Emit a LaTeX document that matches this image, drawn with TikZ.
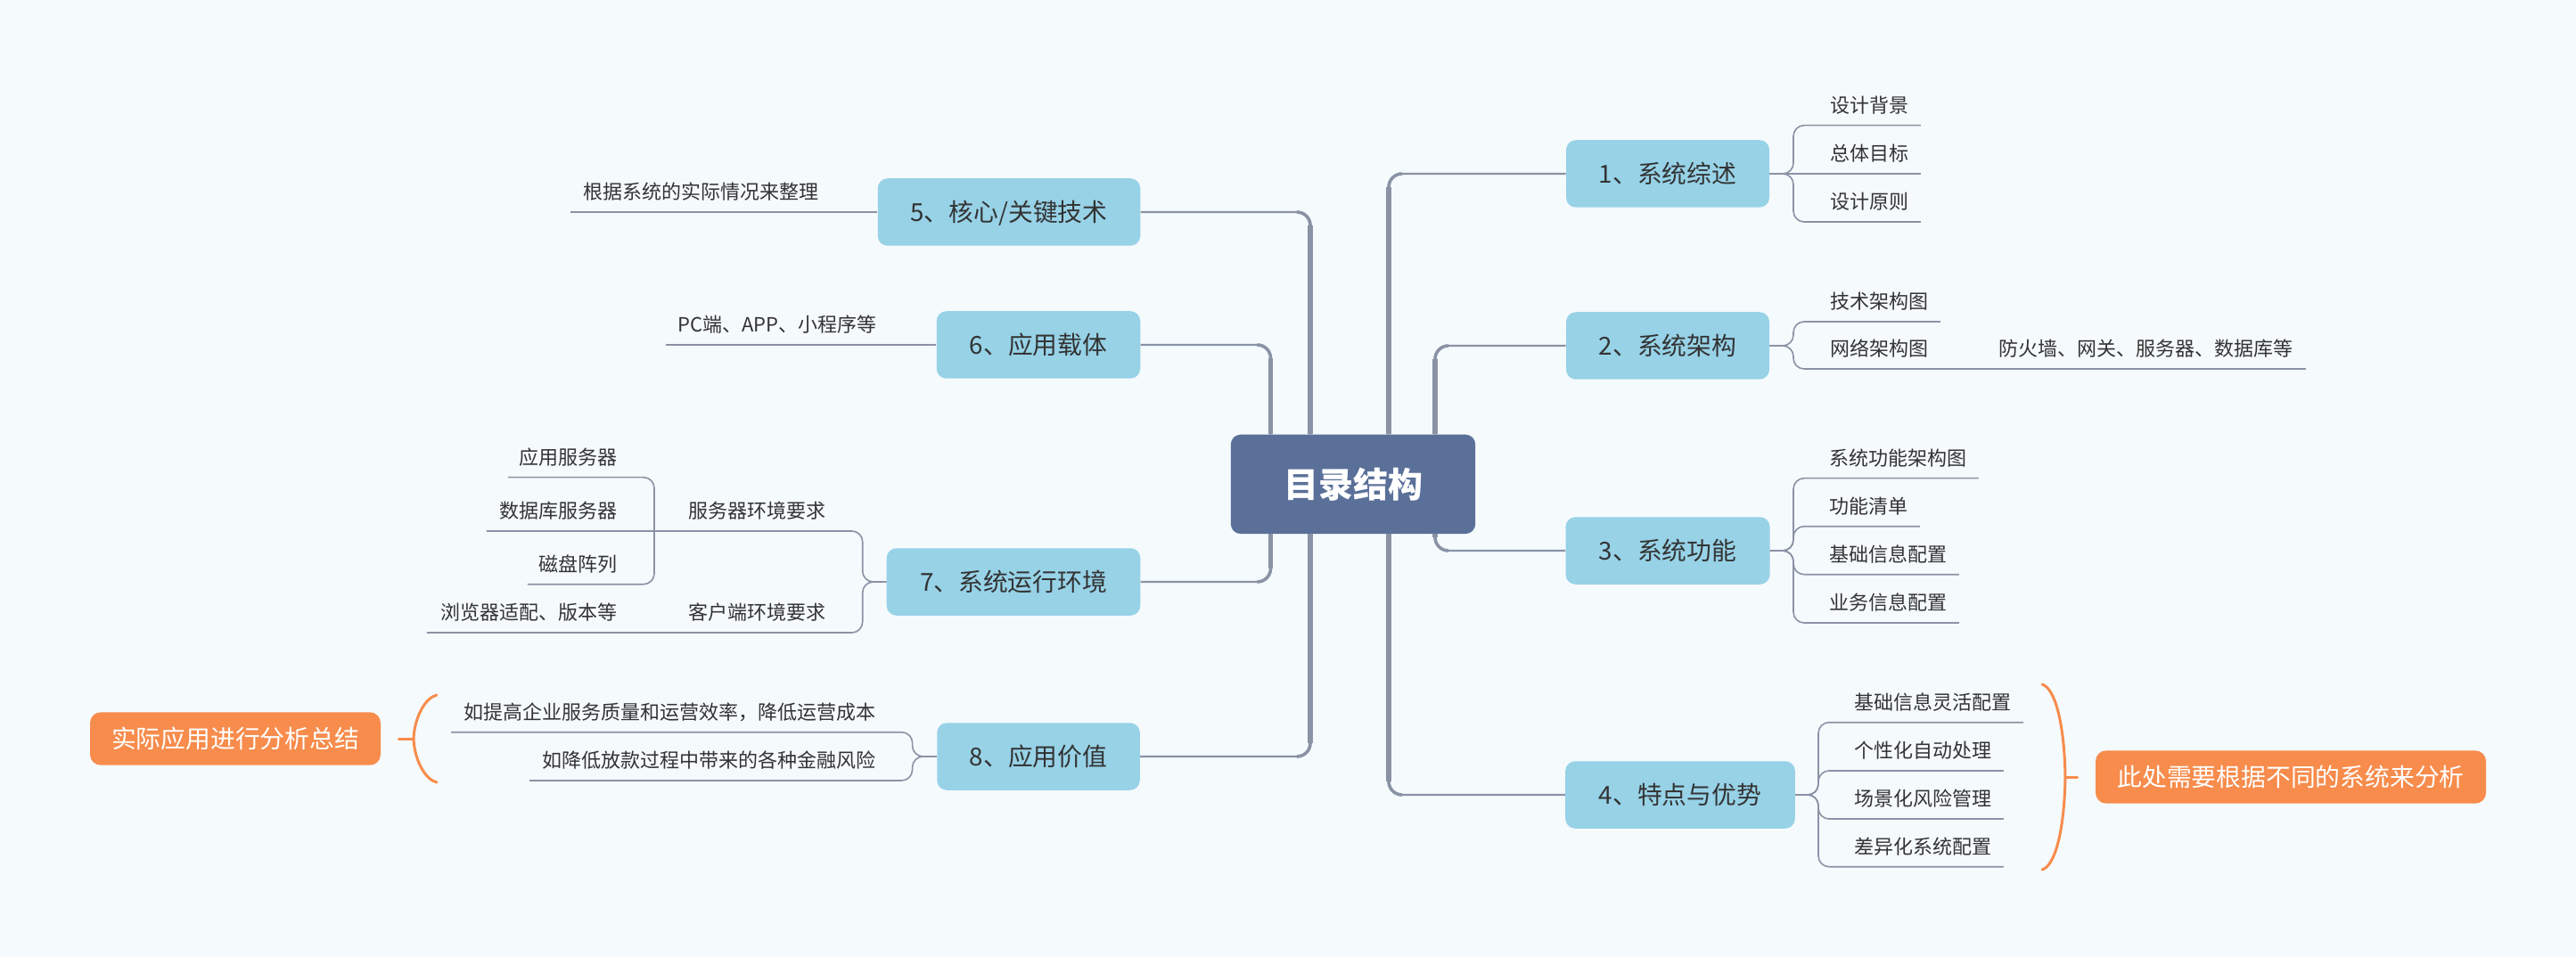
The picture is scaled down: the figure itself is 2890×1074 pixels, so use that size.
\documentclass[tikz,border=0pt]{standalone}
\usepackage{fontspec}
\newfontfamily\cjk{Noto Sans CJK SC}
\usetikzlibrary{calc}
\definecolor{bgc}{HTML}{F5FAFD}
\definecolor{lnc}{HTML}{8A93A5}
\definecolor{cenc}{HTML}{5A7099}
\definecolor{brc}{HTML}{97D2E7}
\definecolor{orc}{HTML}{F78C4C}
\definecolor{txt}{HTML}{333333}
\tikzset{
  cen/.style={fill=cenc, rounded corners=5.5pt, minimum width=137.2pt, minimum height=55.65pt,
    inner sep=0pt, text=white, font=\cjk\bfseries\fontsize{19.5}{20}\selectfont,
    text height=17.2pt, text depth=2.3pt},
  br/.style={fill=brc, rounded corners=5.5pt, minimum height=37.75pt, inner sep=0pt,
    text=txt, font=\cjk\fontsize{13.9}{14}\selectfont, text height=12.2pt, text depth=1.7pt},
  org/.style={fill=orc, rounded corners=6pt, minimum height=29.7pt, inner sep=0pt,
    text=white, font=\cjk\fontsize{13.9}{14}\selectfont, text height=12.2pt, text depth=1.7pt},
  lab/.style={inner sep=0pt, minimum height=22.5pt, text=txt,
    font=\cjk\fontsize{11}{12}\selectfont, text height=9.7pt, text depth=1.3pt},
  trunk/.style={draw=lnc, line width=1.1pt, rounded corners=7.5pt},
  trunkmid/.style={draw=lnc, line width=1.8pt, rounded corners=7.5pt},
  trunkthick/.style={draw=lnc, line width=2.6pt},
  sub/.style={draw=lnc, line width=0.8pt, rounded corners=6pt},
  brace/.style={draw=orc, line width=1.5pt, line cap=round},
}
\begin{document}
\begin{tikzpicture}[x=0.5pt,y=-0.5pt]
\fill[bgc] (0,0) rectangle (2890,1074);
\useasboundingbox (0,0) rectangle (2890,1074);

% main nodes
\node[cen] (c) at (1518,543.4) {目录结构};
\node[br, minimum width=114pt]    (b1) at (1871,195) {1、系统综述};
\node[br, minimum width=114pt]    (b2) at (1871,388) {2、系统架构};
\node[br, minimum width=114.5pt]  (b3) at (1871,618) {3、系统功能};
\node[br, minimum width=128.8pt]  (b4) at (1885,892) {4、特点与优势};
\node[br, minimum width=147.25pt] (b5) at (1132,238) {5、核心/关键技术};
\node[br, minimum width=114.25pt] (b6) at (1165,387) {6、应用载体};
\node[br, minimum width=142.3pt]  (b7) at (1137,653) {7、系统运行环境};
\node[br, minimum width=113.75pt] (b8) at (1165,849) {8、应用价值};

% trunk x positions
\coordinate (tr1) at (1558,0);
\coordinate (tr2) at (1610,0);
\coordinate (tl1) at (1425.5,0);
\coordinate (tl2) at (1470,0);

% main connectors (tapered: thick trunk, medium corner, thin arm)
\draw[trunk] (tr1 |- c.north) -- (tr1 |- b1.west) -- (b1.west);
\draw[trunkmid] (tr1 |- c.north) -- (tr1 |- b1.west) -- ([xshift=7.5pt]tr1 |- b1.west);
\draw[trunkthick] (tr1 |- c.north) -- ([yshift=-7.5pt]tr1 |- b1.west);

\draw[trunk] (tr2 |- c.north) -- (tr2 |- b2.west) -- (b2.west);
\draw[trunkmid] (tr2 |- c.north) -- (tr2 |- b2.west) -- ([xshift=7.5pt]tr2 |- b2.west);
\draw[trunkthick] (tr2 |- c.north) -- ([yshift=-7.5pt]tr2 |- b2.west);

\draw[trunk] (tr2 |- c.south) -- (tr2 |- b3.west) -- (b3.west);
\draw[trunkmid] (tr2 |- c.south) -- (tr2 |- b3.west) -- ([xshift=7.5pt]tr2 |- b3.west);
\draw[trunkthick] (tr2 |- c.south) -- ([yshift=7.5pt]tr2 |- b3.west);

\draw[trunk] (tr1 |- c.south) -- (tr1 |- b4.west) -- (b4.west);
\draw[trunkmid] (tr1 |- c.south) -- (tr1 |- b4.west) -- ([xshift=7.5pt]tr1 |- b4.west);
\draw[trunkthick] (tr1 |- c.south) -- ([yshift=7.5pt]tr1 |- b4.west);

\draw[trunk] (tl2 |- c.north) -- (tl2 |- b5.east) -- (b5.east);
\draw[trunkmid] (tl2 |- c.north) -- (tl2 |- b5.east) -- ([xshift=-7.5pt]tl2 |- b5.east);
\draw[trunkthick] (tl2 |- c.north) -- ([yshift=-7.5pt]tl2 |- b5.east);

\draw[trunk] (tl1 |- c.north) -- (tl1 |- b6.east) -- (b6.east);
\draw[trunkmid] (tl1 |- c.north) -- (tl1 |- b6.east) -- ([xshift=-7.5pt]tl1 |- b6.east);
\draw[trunkthick] (tl1 |- c.north) -- ([yshift=-7.5pt]tl1 |- b6.east);

\draw[trunk] (tl1 |- c.south) -- (tl1 |- b7.east) -- (b7.east);
\draw[trunkmid] (tl1 |- c.south) -- (tl1 |- b7.east) -- ([xshift=-7.5pt]tl1 |- b7.east);
\draw[trunkthick] (tl1 |- c.south) -- ([yshift=7.5pt]tl1 |- b7.east);

\draw[trunk] (tl2 |- c.south) -- (tl2 |- b8.east) -- (b8.east);
\draw[trunkmid] (tl2 |- c.south) -- (tl2 |- b8.east) -- ([xshift=-7.5pt]tl2 |- b8.east);
\draw[trunkthick] (tl2 |- c.south) -- ([yshift=7.5pt]tl2 |- b8.east);

% ---------- right sub-branches ----------
\coordinate (bx1) at (2012,0);
\coordinate (bx4) at (2040,0);

% B1
\node[lab, anchor=south west] (l11) at (2053,140.7) {设计背景};
\node[lab, anchor=south west] (l12) at (2053,195) {总体目标};
\node[lab, anchor=south west] (l13) at (2053,249) {设计原则};
\draw[sub] (b1.east) -- (bx1 |- b1.east) -- (bx1 |- l11.south) -- ([xshift=6.5pt]l11.south east);
\draw[sub] (b1.east) -- ([xshift=6.5pt]l12.south east);
\draw[sub] (b1.east) -- (bx1 |- b1.east) -- (bx1 |- l13.south) -- ([xshift=6.5pt]l13.south east);

% B2
\node[lab, anchor=south west] (l21) at (2053,361) {技术架构图};
\node[lab, anchor=south west] (l22) at (2053,414) {网络架构图};
\node[lab, anchor=south west] (l221) at (2242,414) {防火墙、网关、服务器、数据库等};
\draw[sub] (b2.east) -- (bx1 |- b2.east) -- (bx1 |- l21.south) -- ([xshift=6.5pt]l21.south east);
\draw[sub] (b2.east) -- (bx1 |- b2.east) -- (bx1 |- l22.south) -- ([xshift=7pt]l221.south east);

% B3
\node[lab, anchor=south west] (l31) at (2052,536.7) {系统功能架构图};
\node[lab, anchor=south west] (l32) at (2052,590.7) {功能清单};
\node[lab, anchor=south west] (l33) at (2052,644.7) {基础信息配置};
\node[lab, anchor=south west] (l34) at (2052,699) {业务信息配置};
\draw[sub] (b3.east) -- (bx1 |- b3.east) -- (bx1 |- l31.south) -- ([xshift=6.5pt]l31.south east);
\draw[sub] (b3.east) -- (bx1 |- b3.east) -- (bx1 |- l32.south) -- ([xshift=6.5pt]l32.south east);
\draw[sub] (b3.east) -- (bx1 |- b3.east) -- (bx1 |- l33.south) -- ([xshift=6.5pt]l33.south east);
\draw[sub] (b3.east) -- (bx1 |- b3.east) -- (bx1 |- l34.south) -- ([xshift=6.5pt]l34.south east);

% B4
\node[lab, anchor=south west] (l41) at (2080,810.7) {基础信息灵活配置};
\node[lab, anchor=south west] (l42) at (2080,865) {个性化自动处理};
\node[lab, anchor=south west] (l43) at (2080,919) {场景化风险管理};
\node[lab, anchor=south west] (l44) at (2080,972.7) {差异化系统配置};
\draw[sub] (b4.east) -- (bx4 |- b4.east) -- (bx4 |- l41.south) -- ([xshift=6.5pt]l41.south east);
\draw[sub] (b4.east) -- (bx4 |- b4.east) -- (bx4 |- l42.south) -- ([xshift=6.5pt]l42.south east);
\draw[sub] (b4.east) -- (bx4 |- b4.east) -- (bx4 |- l43.south) -- ([xshift=6.5pt]l43.south east);
\draw[sub] (b4.east) -- (bx4 |- b4.east) -- (bx4 |- l44.south) -- ([xshift=6.5pt]l44.south east);

% orange summary right
\node[org, minimum width=219pt] (o1) at (2570,872) {此处需要根据不同的系统来分析};
\draw[brace] (2291,768) .. controls (2305,772) and (2316,810) .. (2317,872)
  .. controls (2316,934) and (2305,972) .. (2291,976);
\draw[brace] (2317,872) -- ([xshift=-10pt]o1.west);

% ---------- left sub-branches ----------
% B5
\node[lab, anchor=south east] (l51) at (919,238) {根据系统的实际情况来整理};
\draw[sub] (b5.west) -- ([xshift=-7pt]l51.south west);

% B6
\node[lab, anchor=south east] (l61) at (984,387) {PC端、APP、小程序等};
\draw[sub] (b6.west) -- ([xshift=-6.5pt]l61.south west);

% B7
\coordinate (bx7) at (967.7,0);
\coordinate (bx71) at (734,0);
\node[lab, anchor=south east] (l71) at (927,596) {服务器环境要求};
\node[lab, anchor=south east] (l72) at (927,710) {客户端环境要求};
\node[lab, anchor=south east] (l711) at (692.7,535.7) {应用服务器};
\node[lab, anchor=south east] (l712) at (692.7,596) {数据库服务器};
\node[lab, anchor=south east] (l713) at (692.7,655.7) {磁盘阵列};
\node[lab, anchor=south east] (l721) at (692.7,710) {浏览器适配、版本等};
\draw[sub] (b7.west) -- (bx7 |- b7.west) -- (bx7 |- l71.south) -- ([xshift=-7pt]l712.south west);
\draw[sub] (bx71 |- l71.south) -- (bx71 |- l711.south) -- ([xshift=-6pt]l711.south west);
\draw[sub] (bx71 |- l71.south) -- (bx71 |- l713.south) -- ([xshift=-6pt]l713.south west);
\draw[sub] (b7.west) -- (bx7 |- b7.west) -- (bx7 |- l72.south) -- ([xshift=-7.5pt]l721.south west);

% B8
\coordinate (bx8) at (1023.6,0);
\node[lab, anchor=south east] (l81) at (983,821.7) {如提高企业服务质量和运营效率，降低运营成本};
\node[lab, anchor=south east] (l82) at (983,876) {如降低放款过程中带来的各种金融风险};
\draw[sub] (b8.west) -- (bx8 |- b8.west) -- (bx8 |- l81.south) -- ([xshift=-7pt]l81.south west);
\draw[sub] (b8.west) -- (bx8 |- b8.west) -- (bx8 |- l82.south) -- ([xshift=-7pt]l82.south west);

% orange summary left
\node[org, minimum width=163pt] (o2) at (264,829) {实际应用进行分析总结};
\draw[brace] (490,780) .. controls (477,783) and (465,805) .. (464,829)
  .. controls (465,853) and (477,875) .. (490,878);
\draw[brace] (464,829) -- ([xshift=10pt]o2.east);
\end{tikzpicture}
\end{document}
